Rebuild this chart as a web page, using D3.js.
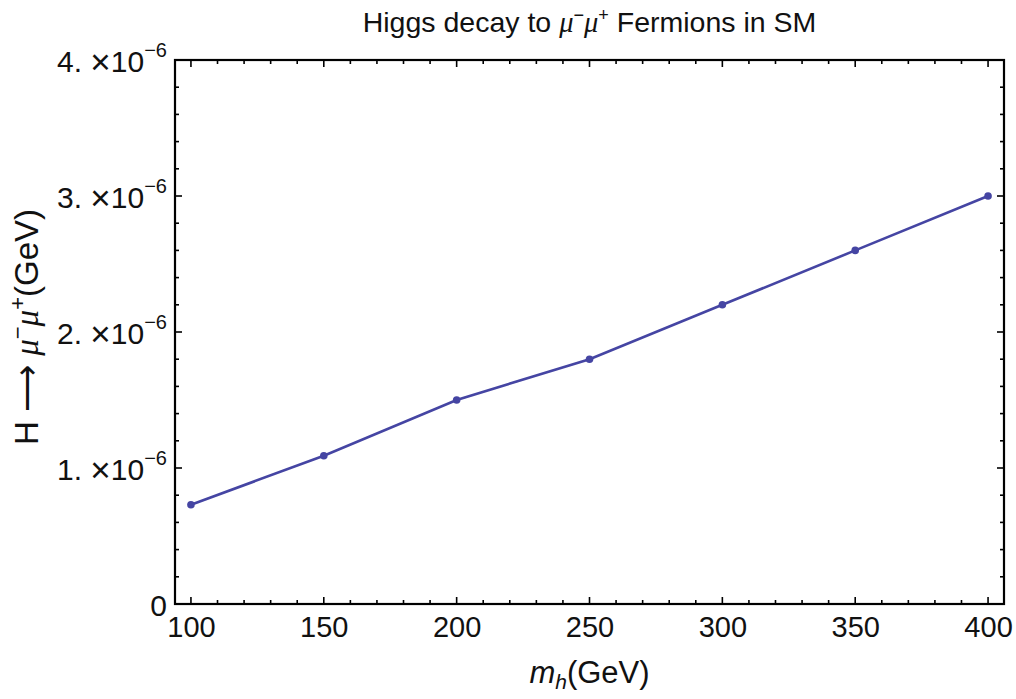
<!DOCTYPE html>
<html>
<head>
<meta charset="utf-8">
<script src="https://cdn.jsdelivr.net/npm/d3@7"></script>
<style>
  body { margin: 0; background: #fff; }
  svg { display: block; }
  text { font-family: "Liberation Sans", Arial, sans-serif; fill: #111; }
</style>
</head>
<body>
<svg width="1016" height="699"></svg>
<script>

// data
let masses = [100, 150, 200, 250, 300, 350, 400];
let widths = [0.73e-6, 1.09e-6, 1.5e-6, 1.8e-6, 2.2e-6, 2.6e-6, 3.0e-6];

let xTicks = [100, 150, 200, 250, 300, 350, 400];
let yTicks = [0, 1e-6, 2e-6, 3e-6, 4e-6];
let yTickLabels = ['0', '1.', '2.', '3.', '4.'];

let svg = d3.select('svg');
let margin = { top: 60, right: 12, bottom: 95, left: 175 };
let width = +svg.attr('width');
let height = +svg.attr('height');

let x = d3.scaleLinear()
    .domain([94, 406])
    .range([margin.left, width - margin.right]);

let y = d3.scaleLinear()
    .domain([0, 4e-6])
    .range([height - margin.bottom, margin.top]);

let xMinor = d3.range(100, 401, 10).filter(v => v % 50);
let yMinor = d3.range(0, 4e-6 + 1e-12, 0.2e-6).filter((v, i) => i % 5);

let color = '#4545a3';

// ticks, pointing into the frame on all four sides
function ticks(g, scale, vals, len, orient) {
    g.selectAll(null).data(vals).enter().append('line')
        .attr('stroke', '#000')
        .attr('stroke-width', 1.6)
        .each(function(d) {
            let s = d3.select(this), p = scale(d);
            if (orient === 'bottom') s.attr('x1', p).attr('x2', p).attr('y1', y.range()[0]).attr('y2', y.range()[0] - len);
            if (orient === 'top') s.attr('x1', p).attr('x2', p).attr('y1', y.range()[1]).attr('y2', y.range()[1] + len);
            if (orient === 'left') s.attr('y1', p).attr('y2', p).attr('x1', x.range()[0]).attr('x2', x.range()[0] + len);
            if (orient === 'right') s.attr('y1', p).attr('y2', p).attr('x1', x.range()[1]).attr('x2', x.range()[1] - len);
        });
}

let tg = svg.append('g');
['bottom', 'top'].forEach(o => {
    ticks(tg, x, xTicks, 7, o);
    ticks(tg, x, xMinor, 4, o);
});
['left', 'right'].forEach(o => {
    ticks(tg, y, yTicks, 7, o);
    ticks(tg, y, yMinor, 4, o);
});

// frame
svg.append('rect')
    .attr('x', x.range()[0])
    .attr('y', y.range()[1])
    .attr('width', x.range()[1] - x.range()[0])
    .attr('height', y.range()[0] - y.range()[1])
    .attr('fill', 'none')
    .attr('stroke', '#000')
    .attr('stroke-width', 2.2);

// x tick labels via axis, then strip axis lines
let xAxis = svg.append('g')
    .attr('transform', 'translate(0,' + y.range()[0] + ')')
    .call(d3.axisBottom(x).tickValues(xTicks).tickSize(0).tickPadding(0).tickFormat(d3.format('d')));
xAxis.select('.domain').remove();
xAxis.selectAll('text')
    .attr('y', 33).attr('dy', 0)
    .attr('font-size', 29)
    .attr('font-family', '"Liberation Sans", Arial, sans-serif')
    .attr('fill', '#111');

// y tick labels with a ×10^-6 suffix
let yAxis = svg.append('g')
    .attr('transform', 'translate(' + x.range()[0] + ',0)')
    .call(d3.axisLeft(y).tickValues(yTicks).tickSize(0).tickFormat(''));
yAxis.select('.domain').remove();
yAxis.selectAll('.tick').each(function(d, i) {
    let t = d3.select(this).select('text')
        .attr('x', -8).attr('dy', 0).attr('y', 11)
        .attr('font-size', 30)
        .attr('font-family', '"Liberation Sans", Arial, sans-serif')
        .attr('fill', '#111')
        .attr('text-anchor', 'end')
        .attr('xml:space', 'preserve');
    t.append('tspan').text(yTickLabels[i]);
    if (i > 0) {
        t.append('tspan').text(' ');
        t.append('tspan').attr('font-size', 35).attr('dy', 2).text('\u00d7');
        t.append('tspan').attr('dy', -2).text('10');
        t.append('tspan').attr('font-size', 20).attr('dy', -15).text('\u22126');
    }
});

// series
svg.append('path')
    .datum(masses.map((m, i) => [m, widths[i]]))
    .attr('fill', 'none')
    .attr('stroke', color)
    .attr('stroke-width', 2.6)
    .attr('d', d3.line().x(d => x(d[0])).y(d => y(d[1])));

svg.selectAll('circle.pt')
    .data(masses)
    .enter().append('circle')
    .attr('class', 'pt')
    .attr('cx', d => x(d))
    .attr('cy', (d, i) => y(widths[i]))
    .attr('r', 3.8)
    .attr('fill', color);

// title
let title = svg.append('text')
    .attr('x', (x.range()[0] + x.range()[1]) / 2)
    .attr('y', 32)
    .attr('text-anchor', 'middle')
    .attr('font-size', 28.5);
title.append('tspan').text('Higgs decay to ');
title.append('tspan').attr('font-family', '"Liberation Serif", serif').attr('font-style', 'italic').text('\u03bc');
title.append('tspan').attr('font-size', 18).attr('dy', -11).text('\u2212');
title.append('tspan').attr('font-size', 28.5).attr('dy', 11).attr('font-family', '"Liberation Serif", serif').attr('font-style', 'italic').text('\u03bc');
title.append('tspan').attr('font-size', 18).attr('dy', -11).text('+');
title.append('tspan').attr('dy', 11).text(' Fermions in SM');

// x label
let xl = svg.append('text')
    .attr('x', (x.range()[0] + x.range()[1]) / 2)
    .attr('y', 683)
    .attr('text-anchor', 'middle')
    .attr('font-size', 31);
xl.append('tspan').attr('font-style', 'italic').text('m');
xl.append('tspan').attr('font-style', 'italic').attr('font-size', 21).attr('dy', 6).text('h');
xl.append('tspan').attr('dy', -6).text('(GeV)');

// y label
let yl = svg.append('text')
    .attr('transform', 'translate(38,327) rotate(-90)')
    .attr('text-anchor', 'middle')
    .attr('font-size', 33);
yl.append('tspan').text('H \u27f6 ');
yl.append('tspan').attr('font-family', '"Liberation Serif", serif').attr('font-style', 'italic').text('\u03bc');
yl.append('tspan').attr('font-size', 22).attr('dy', -13).text('\u2212');
yl.append('tspan').attr('dy', 13).attr('font-family', '"Liberation Serif", serif').attr('font-style', 'italic').text('\u03bc');
yl.append('tspan').attr('font-size', 22).attr('dy', -13).text('+');
yl.append('tspan').attr('dy', 13).text('(GeV)');

</script>
</body>
</html>
